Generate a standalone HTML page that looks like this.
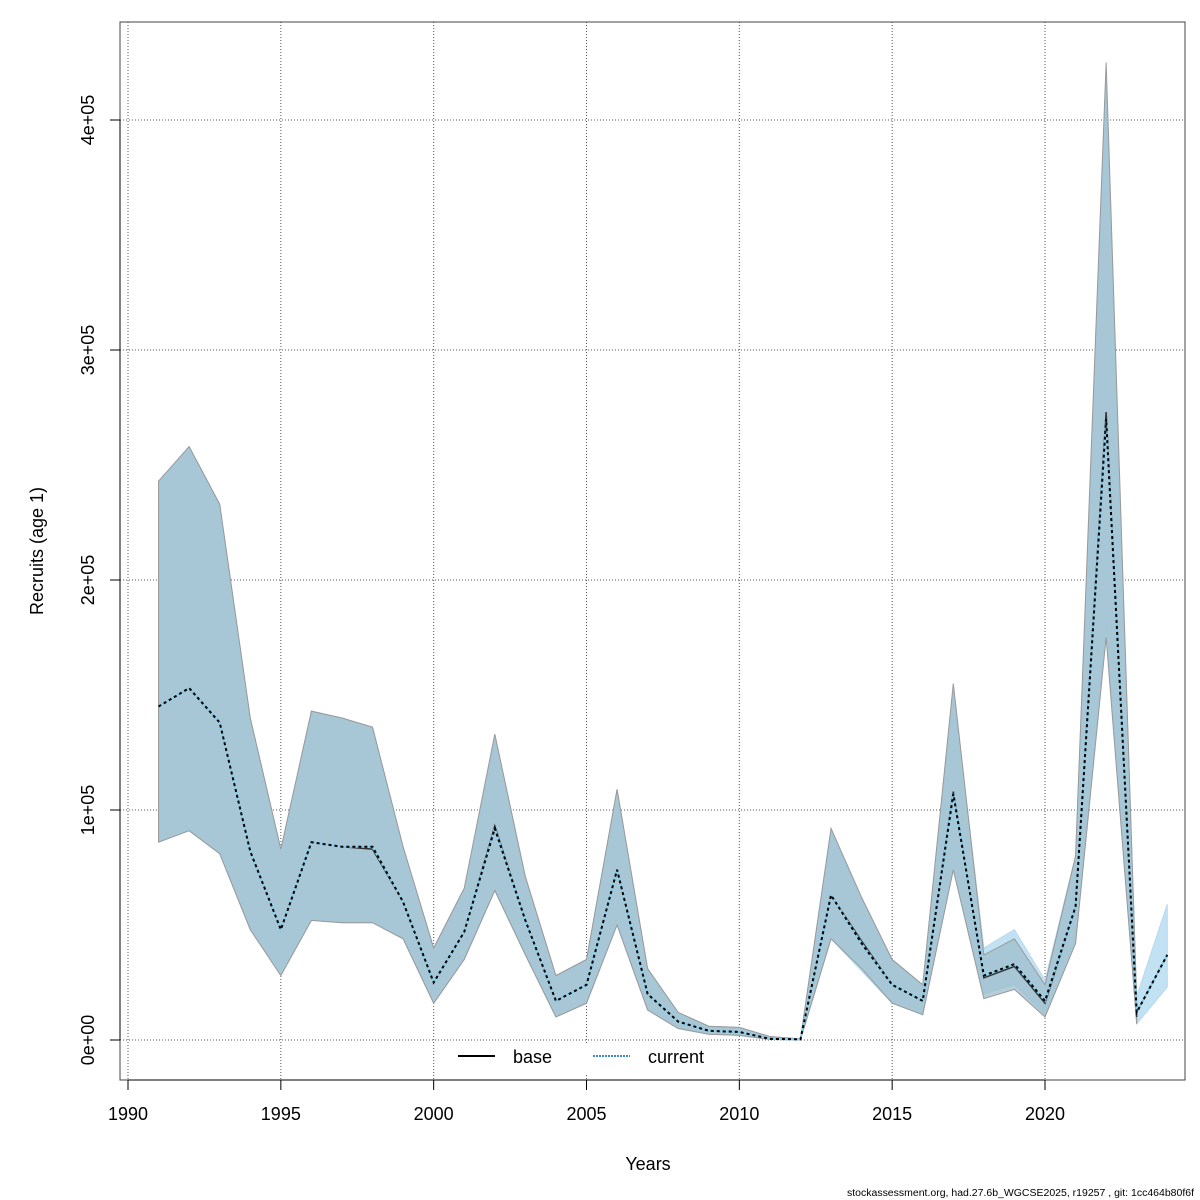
<!DOCTYPE html>
<html><head><meta charset="utf-8"><style>
body{margin:0;background:#fff;}
svg{display:block;font-family:"Liberation Sans",sans-serif;}
</style></head><body>
<svg id="chart" width="1200" height="1200" viewBox="0 0 1200 1200"></svg>
<script>
const baseYears=[1991,1992,1993,1994,1995,1996,1997,1998,1999,2000,2001,2002,2003,2004,2005,2006,2007,2008,2009,2010,2011,2012,2013,2014,2015,2016,2017,2018,2019,2020,2021,2022,2023];
const baseEst=[145000,153000,138000,82000,48000,86000,84000,83000,60000,25000,47000,93000,52000,17000,24000,74000,20000,8000,4000,3500,500,300,63000,43000,24000,17000,108000,27000,32000,16000,58000,273000,10000];
const baseHi=[243000,258000,233000,140000,83000,143000,140000,136000,84000,40000,66000,133000,71000,28000,35000,109000,31000,12000,6000,5500,1500,500,92000,62000,35000,24000,155000,37000,44000,24000,80000,425000,17000];
const baseLo=[86000,91000,81000,48000,28000,52000,51000,51000,44000,16000,35000,65000,37000,10000,16000,50000,13000,5000,2500,2000,200,100,44000,31000,16000,11000,74000,18000,22000,10000,42000,175000,7000];
const curYears=[1991,1992,1993,1994,1995,1996,1997,1998,1999,2000,2001,2002,2003,2004,2005,2006,2007,2008,2009,2010,2011,2012,2013,2014,2015,2016,2017,2018,2019,2020,2021,2022,2023,2024];
const curEst=[145000,153000,138000,82000,48000,86000,84000,84000,60000,25000,47000,92000,52000,17000,24000,74000,20000,8000,4000,3500,500,300,63000,42000,24000,17000,107000,28000,33000,17000,58000,270000,12000,37000];
const curHi=[243000,258000,233000,140000,83000,143000,140000,136000,84000,40000,66000,131000,71000,28000,35000,109000,31000,12000,6000,5500,1500,500,91000,61000,35000,24000,152000,40000,48000,26000,80000,415000,19000,59000];
const curLo=[86000,91000,81000,48000,28000,52000,51000,51000,44000,16000,35000,65000,37000,10000,16000,50000,13000,5000,2500,2000,200,100,44000,30000,16000,11000,74000,20000,24000,11000,42000,180000,7000,23000];
const xTicks=[1990,1995,2000,2005,2010,2015,2020];
const yTicks=[0,100000,200000,300000,400000];
const yLabels=["0e+00","1e+05","2e+05","3e+05","4e+05"];

const NS="http://www.w3.org/2000/svg";
const svg=document.getElementById('chart');
const X=v=>128+(v-1990)*(1045-128)/30;
const Y=v=>1040-v*230/100000;
function mk(t,a,p){const e=document.createElementNS(NS,t);for(const k in a)e.setAttribute(k,a[k]);(p||svg).appendChild(e);return e;}
xTicks.forEach(t=>{const l=mk('line',{x1:X(t),x2:X(t),y1:22,y2:1080,stroke:'#555','stroke-dasharray':'1,2','stroke-width':1});

});
yTicks.forEach(t=>{const l=mk('line',{x1:120,x2:1185,y1:Y(t),y2:Y(t),stroke:'#555','stroke-dasharray':'1,2','stroke-width':1});

});
function band(yrs,hi,lo,fill,stroke,name){
 let pts=yrs.map((y,i)=>X(y)+','+Y(hi[i]));
 for(let i=yrs.length-1;i>=0;i--)pts.push(X(yrs[i])+','+Y(lo[i]));
 const p=mk('polygon',{points:pts.join(' '),fill:fill,stroke:stroke,'stroke-width':1});
 
 
}
band(curYears,curHi,curLo,'#c2e2f3','#b5d9ee','current-ci-band');
band(baseYears,baseHi,baseLo,'rgba(158,190,206,0.75)','#999','base-ci-band');
function line(yrs,v,attrs,name){
 const p=mk('polyline',Object.assign({points:yrs.map((y,i)=>X(y)+','+Y(v[i])).join(' '),fill:'none'},attrs));
 
 
}
line(baseYears,baseEst,{stroke:'#333','stroke-width':1.5},'base-line');
line(curYears,curEst,{stroke:'#87ceeb','stroke-width':2},'current-line-bg');
line(curYears,curEst,{stroke:'#000','stroke-width':2,'stroke-dasharray':'3,3'},'current-line');
const bx=mk('rect',{x:120,y:22,width:1065,height:1058,fill:'none',stroke:'#444','stroke-width':1});


mk('line',{x1:X(1990),x2:X(2020),y1:1080,y2:1080,stroke:'#000'});
xTicks.forEach(t=>{mk('line',{x1:X(t),x2:X(t),y1:1080,y2:1090,stroke:'#000'});
const tx=mk('text',{x:X(t),y:1120,'text-anchor':'middle','font-size':18});tx.textContent=t;

});
mk('line',{x1:120,x2:120,y1:Y(0),y2:Y(400000),stroke:'#000'});
yTicks.forEach((t,i)=>{mk('line',{x1:110,x2:120,y1:Y(t),y2:Y(t),stroke:'#000'});
const tx=mk('text',{x:94,y:Y(t),'text-anchor':'middle','font-size':18,transform:`rotate(-90 94 ${Y(t)})`});tx.textContent=yLabels[i];

});
</script>
<svg style="position:absolute;left:0;top:0" width="1200" height="1200">
<g font-family="Liberation Sans, sans-serif">
<rect x="445" y="1043" width="280" height="30" fill="#fff"/>
<line x1="458" x2="495" y1="1056" y2="1056" stroke="#000" stroke-width="2"/>
<text x="513" y="1063" font-size="18">base</text>
<line x1="593" x2="630" y1="1056" y2="1056" stroke="#3a8fc0" stroke-width="2" stroke-dasharray="2,1"/>
<text x="648" y="1063" font-size="18">current</text>
<text x="648" y="1170" font-size="18" text-anchor="middle">Years</text>
<text x="43" y="551" font-size="18" text-anchor="middle" transform="rotate(-90 43 551)">Recruits (age 1)</text>
<text x="847" y="1196" font-size="10" textLength="347" lengthAdjust="spacingAndGlyphs">stockassessment.org, had.27.6b_WGCSE2025, r19257 , git: 1cc464b80f6f</text>
</g></svg>
</body></html>
